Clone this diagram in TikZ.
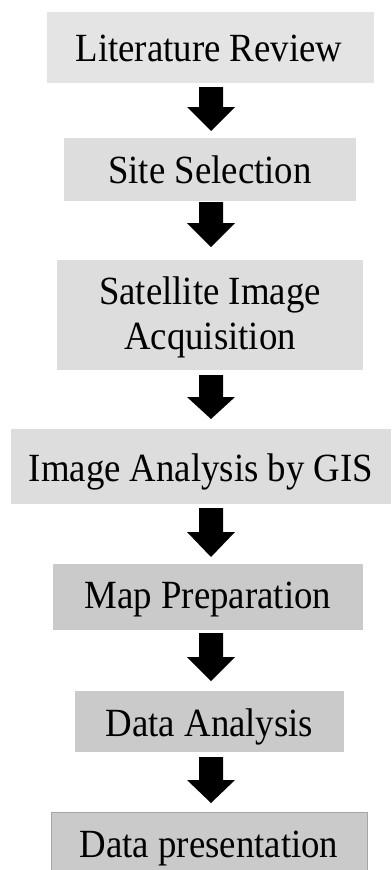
\documentclass[tikz,border=0pt]{standalone}
\usepackage{fontspec}
\setmainfont{Liberation Serif}[FakeStretch=0.92]
\definecolor{boxlighter}{HTML}{E4E4E4}
\definecolor{boxlight}{HTML}{DDDDDD}
\definecolor{boxdark}{HTML}{CACACA}
\definecolor{boxedge}{HTML}{A6A6A6}
\begin{document}
\begin{tikzpicture}[x=1pt,y=-1pt,
  box/.style={rectangle, inner sep=0pt, outer sep=0pt, anchor=north west,
    font=\fontsize{40}{45}\selectfont, align=center},
  light/.style={fill=boxlight},
  lighter/.style={fill=boxlighter},
  dark/.style={fill=boxdark},
  flowarrow/.style={fill=black}]
\useasboundingbox (0,0) rectangle (391,870);
\clip (0,0) rectangle (391,870);
\fill[white] (0,0) rectangle (391,870);
% boxes
\node[box, lighter, minimum width=327pt, minimum height=71pt] (b1) at (47,12) {};
\node[box, light, minimum width=292pt, minimum height=63pt] (b2) at (64,138) {};
\node[box, light, minimum width=306pt, minimum height=110pt] (b3) at (57,260) {};
\node[box, light, minimum width=380pt, minimum height=75pt] (b4) at (11,429) {};
\node[box, dark, minimum width=310pt, minimum height=66pt] (b5) at (53,564) {};
\node[box, dark, minimum width=269pt, minimum height=61pt] (b6) at (75,691) {};
\node[box, dark, draw=boxedge, line width=0.8pt, minimum width=316pt, minimum height=75pt] (b7) at (51,812) {};
% texts
\node[box, anchor=base] (t1) at (209,61.5) {Literature Review};
\node[box, anchor=base] (t2) at (210,183) {Site Selection};
\node[box, anchor=base] (t3a) at (210,304) {Satellite Image};
\node[box, anchor=base] (t3b) at (210,349.5) {Acquisition};
\node[box, anchor=base] (t4) at (201,481.5) {Image Analysis by GIS};
\node[box, anchor=base] (t5) at (208,608) {Map Preparation};
\node[box, anchor=base] (t6) at (209.5,736.5) {Data Analysis};
\node[box, anchor=base] (t7) at (209,857) {Data presentation};
% arrows: start y, head-start y, tip y
\newcommand{\blockarrow}[3]{%
  \fill[flowarrow] (199,#1) -- (223,#1) -- (223,#2) -- (235,#2) -- (211,#3)
    -- (187,#2) -- (199,#2) -- cycle;}
\blockarrow{87}{107}{131}
\blockarrow{202}{223}{247}
\blockarrow{375}{397}{419}
\blockarrow{508}{532}{557}
\blockarrow{633}{657}{681}
\blockarrow{757}{780}{803}
\end{tikzpicture}
\end{document}
